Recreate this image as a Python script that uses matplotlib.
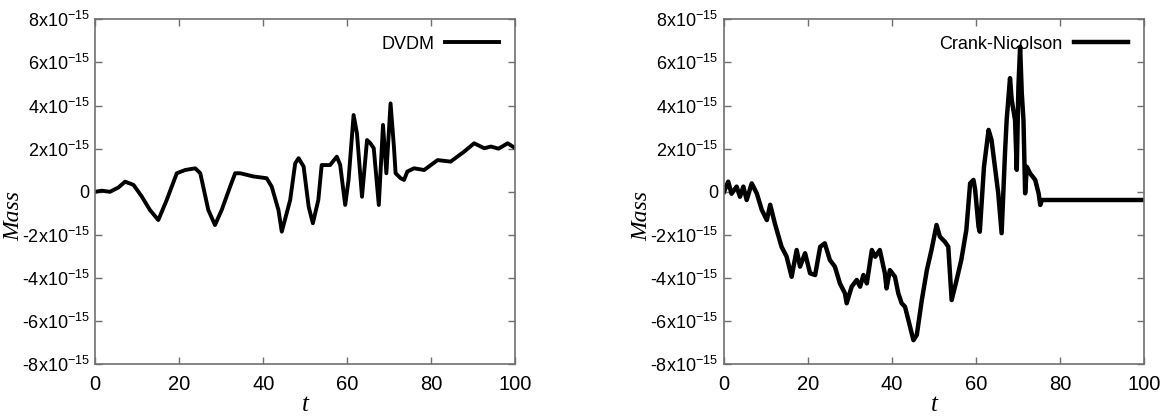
import numpy as np
import matplotlib
matplotlib.use("Agg")
import matplotlib.pyplot as plt

plt.rcParams['font.family'] = ['Liberation Sans', 'DejaVu Sans']

# DVDM mass error (units of 1e-15)
t_dvdm = [0, 1.5, 3.5, 5.5, 7.1, 9.1, 11.0, 13.0, 15.0, 17.0,
          19.4, 21.4, 23.8, 25.0, 26.9, 28.5, 30.1, 32.1, 33.3, 34.5,
          37.7, 40.8, 42.0, 43.6, 44.4, 46.4, 47.6, 48.4, 49.6, 50.8,
          51.8, 53.1, 53.9, 55.9, 57.5, 58.3, 59.5, 60.3, 61.5, 62.3,
          63.5, 64.7, 65.5, 66.3, 67.5, 68.5, 69.3, 70.3, 71.1, 71.5,
          72.7, 73.5, 74.3, 75.9, 78.3, 81.5, 84.6, 87.8, 90.2, 92.6,
          94.2, 96.0, 98.2, 100]
m_dvdm = [0.0, 0.05, 0.0, 0.2, 0.47, 0.32, -0.2, -0.84, -1.31, -0.38,
          0.86, 1.01, 1.09, 0.86, -0.84, -1.54, -0.84, 0.24, 0.86, 0.86,
          0.71, 0.63, 0.24, -0.84, -1.85, -0.38, 1.32, 1.56, 1.17, -0.69,
          -1.46, -0.38, 1.24, 1.24, 1.63, 1.25, -0.61, 0.55, 3.56, 2.71,
          -0.23, 2.4, 2.25, 2.02, -0.61, 3.1, 0.86, 4.1, 2.09, 0.86,
          0.63, 0.55, 0.94, 1.09, 1.01, 1.47, 1.4, 1.86, 2.25, 2.02,
          2.1, 2.0, 2.25, 2.02]

# Crank-Nicolson mass error (units of 1e-15)
t_cn = [0, 1.0, 1.8, 3.0, 3.8, 4.6, 5.4, 6.6, 7.8, 9.0,
        10.2, 11.0, 12.1, 13.7, 14.9, 16.1, 17.3, 18.1, 19.3, 20.5,
        21.7, 22.9, 24.0, 25.2, 26.4, 27.6, 28.8, 29.2, 30.4, 31.6,
        32.4, 33.2, 34.0, 35.2, 36.0, 37.1, 38.3, 38.7, 39.5, 40.7,
        41.5, 42.3, 43.1, 44.3, 45.1, 45.9, 47.1, 48.3, 49.4, 50.6,
        51.4, 52.6, 53.4, 54.2, 55.2, 56.5, 57.7, 58.6, 59.4, 59.8,
        60.6, 60.9, 61.9, 63.0, 63.7, 64.5, 65.3, 66.1, 66.9, 67.3,
        68.1, 68.5, 69.3, 69.7, 70.1, 70.5, 70.9, 71.3, 71.7, 72.1,
        72.9, 74.1, 74.9, 75.3, 75.7, 100]
m_cn = [0.0, 0.47, -0.09, 0.24, -0.23, 0.24, -0.38, 0.39, -0.07, -0.84,
        -1.31, -0.6, -1.46, -2.55, -3.0, -3.94, -2.7, -3.47, -2.85, -3.78,
        -3.86, -2.55, -2.39, -3.16, -3.47, -4.25, -4.71, -5.17, -4.4, -4.09,
        -4.4, -3.86, -4.25, -2.7, -3.01, -2.7, -3.78, -4.48, -3.63, -3.94,
        -4.71, -5.17, -5.33, -6.26, -6.88, -6.64, -5.02, -3.63, -2.7, -1.54,
        -2.08, -2.32, -2.55, -5.02, -4.24, -3.16, -1.77, 0.39, 0.55, 0.09,
        -1.62, -1.85, 1.16, 2.87, 2.4, 1.16, -0.07, -1.92, 1.78, 3.33,
        5.27, 4.26, 3.33, 1.02, 4.88, 6.73, 4.57, 3.33, -0.07, 1.16,
        0.85, 0.55, -0.07, -0.61, -0.38, -0.38]

xticks = [0, 20, 40, 60, 80, 100]
yticks = [-8, -6, -4, -2, 0, 2, 4, 6, 8]
ytick_labels = [r'-8x10$^{\mathregular{-15}}$', r'-6x10$^{\mathregular{-15}}$',
                r'-4x10$^{\mathregular{-15}}$', r'-2x10$^{\mathregular{-15}}$', '0',
                r'2x10$^{\mathregular{-15}}$', r'4x10$^{\mathregular{-15}}$',
                r'6x10$^{\mathregular{-15}}$', r'8x10$^{\mathregular{-15}}$']

W, H = 1166, 416
fig = plt.figure(figsize=(W / 100, H / 100), dpi=100)


def make_panel(left, t, m, label, lw):
    ax = fig.add_axes([left / W, (H - 364.3) / H, 420 / W, 345 / H])
    ax.plot(t, np.array(m) * 1e-15, color='black', lw=lw, label=label)
    ax.set_xlim(0, 100)
    ax.set_ylim(-8e-15, 8e-15)
    ax.set_xticks(xticks)
    ax.set_xticklabels([str(x) for x in xticks], fontsize=14.5)
    ax.set_yticks(np.array(yticks) * 1e-15)
    ax.set_yticklabels(ytick_labels, fontsize=13)
    ax.tick_params(direction='in', length=5, width=1, color='#707070',
                   top=True, right=True)
    ax.tick_params(axis='x', pad=8)
    ax.tick_params(axis='y', pad=4)
    for s in ax.spines.values():
        s.set_color('#707070')
        s.set_linewidth(1.2)
    ax.set_xlabel('t', family='Liberation Serif', style='italic', fontsize=18, labelpad=0)
    ax.set_ylabel('Mass', family='Liberation Serif', style='italic', fontsize=17)
    ax.yaxis.set_label_coords(-0.17, 0.43)
    ax.legend(loc='upper right', frameon=False, markerfirst=False, fontsize=13,
              handlelength=3.0, borderaxespad=0.5, handletextpad=0.6)
    return ax


make_panel(95.3, t_dvdm, m_dvdm, 'DVDM', 2.8)
make_panel(724, t_cn, m_cn, 'Crank-Nicolson', 3.2)

fig.savefig('out.png', dpi=100)
